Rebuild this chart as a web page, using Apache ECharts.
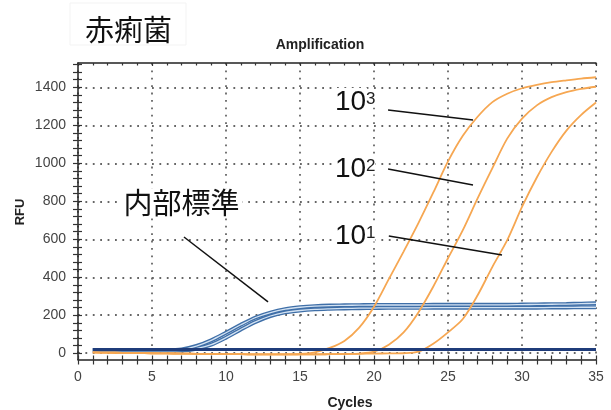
<!DOCTYPE html>
<html>
<head>
<meta charset="utf-8">
<script src="https://cdn.jsdelivr.net/npm/echarts@6/dist/echarts.min.js"></script>
<style>
html,body{margin:0;padding:0;background:#fff;}
#c{width:611px;height:410px;}
</style>
</head>
<body>
<div id="c"></div>
<script>
// ---- data ----
const cycles = [1,2,3,4,5,6,7,8,9,10,11,12,13,14,15,16,17,18,19,20,21,22,23,24,25,26,27,28,29,30,31,32,33,34,35];
const target1e3 = [4,3,2,1,0,-1,-2,-3,-4,-5,-5,-6,-6,-6,-4,5,28,65,135,245,390,535,685,845,1010,1145,1245,1322,1366,1395,1413,1427,1437,1446,1453];
const target1e2 = [4,3,2,1,0,-1,-2,-3,-4,-5,-5,-6,-6,-6,-6,-6,-5,-4,-2,8,45,110,215,350,500,648,815,975,1130,1235,1305,1348,1375,1392,1403];
const target1e1 = [4,3,2,1,0,-1,-2,-3,-4,-5,-5,-6,-6,-6,-6,-6,-5,-4,-3,-2,-1,0,8,50,110,180,305,455,595,770,925,1060,1172,1255,1320];
const internalUpper = [17,17,17,17,17,17,20,38,68,108,150,188,214,232,242,248,251,252,253,254,254,254,254,255,255,255,255,255,255,256,257,258,259,261,263];
const internalLower = [14,14,14,14,14,14,15,24,45,82,125,165,196,215,225,231,234,236,237,238,239,239,239,240,240,240,240,240,240,240,240,241,241,242,242];
const flatControl = [20,20,20,20,20,20,20,20,20,20,20,20,20,20,20,20,20,20,20,20,20,20,20,20,20,20,20,20,20,20,20,20,20,20,20];
const yLabelValues = [0,200,400,600,800,1000,1200,1400];
const yGridValues = [0,200,400,600,800,1000,1200,1400];
const yTickValues = [0,40,80,120,160,200,240,280,320,360,400,440,480,520,560,600,640,680,720,760,800,840,880,920,960,1000,1040,1080,1120,1160,1200,1240,1280,1320,1360,1400,1440,1480,1520];
const yMin = -33, yMax = 1528;
// annotation pointer lines in data coordinates [x1,y1,x2,y2]
const pointer1e3 = [20.95,1281,26.69,1228];
const pointer1e2 = [20.95,970,26.69,886];
const pointer1e1 = [21.0,617,28.65,517];
const pointerIS = [7.16,612,12.84,270];

const pair = ys => cycles.map((c,i)=>[c, ys[i]]);

const ORANGE = '#f6a752';
const BLUE_OUT = '#3f6fa8';
const BLUE_IN = '#d3e2f2';
const NAVY = '#1f3c7a';
const LF = '"Liberation Sans", Arial, sans-serif';
const CJK = '"Noto Sans CJK JP", sans-serif';

const chart = echarts.init(document.getElementById('c'), null, {renderer:'canvas'});

const tickStyle = {color:'#333', width:1.2};
const dotted = {color:'#666', width:1.8, type:[1.8,5.6]};

function lineSeries(name, ys, color, width, z){
  return {name, type:'line', data:pair(ys), xAxisIndex:0, yAxisIndex:0, showSymbol:false, symbol:'none',
    smooth:0.3, lineStyle:{color, width}, z, silent:true, animation:false};
}
function ptr(p){ return [{coord:[p[0],p[1]]},{coord:[p[2],p[3]]}]; }

const series = [
  lineSeries('IS-upper-out', internalUpper, BLUE_OUT, 4, 2),
  lineSeries('IS-upper-in', internalUpper, BLUE_IN, 1.3, 3),
  lineSeries('IS-lower-out', internalLower, BLUE_OUT, 4, 2),
  lineSeries('IS-lower-in', internalLower, BLUE_IN, 1.3, 3),
  lineSeries('1e1', target1e1, ORANGE, 1.8, 4),
  lineSeries('1e2', target1e2, ORANGE, 1.8, 4),
  lineSeries('1e3', target1e3, ORANGE, 1.8, 4),
  Object.assign(lineSeries('ctrl', flatControl, NAVY, 3, 5), {
    markLine:{silent:true, symbol:['none','none'], label:{show:false}, animation:false,
      lineStyle:{color:'#111', width:1.5, type:'solid'}, emphasis:{disabled:true},
      data:[ptr(pointer1e3), ptr(pointer1e2), ptr(pointer1e1), ptr(pointerIS)]}
  })
];

const grid = {left:78, right:15, top:63, bottom:50.5, outerBoundsMode:'none', containLabel:false};

const option = {
  animation:false,
  backgroundColor:'#fff',
  grid: grid,
  xAxis:[
    {type:'value', min:0, max:35, interval:5, position:'bottom',
      axisLine:{show:true, onZero:false, lineStyle:{color:'#222', width:1.5}},
      axisTick:{show:true, inside:false, length:5, lineStyle:tickStyle},
      minorTick:{show:true, splitNumber:5, length:5, lineStyle:tickStyle},
      axisLabel:{show:true, margin:11, color:'#444', fontSize:14, fontFamily:LF},
      splitLine:{show:true, lineStyle:dotted}},
    {type:'value', min:0, max:35, interval:5, position:'bottom',
      axisLine:{show:false, onZero:false},
      axisTick:{show:true, inside:true, length:4, lineStyle:tickStyle},
      minorTick:{show:true, splitNumber:5, length:4, lineStyle:tickStyle},
      axisLabel:{show:false}, splitLine:{show:false}},
    {type:'value', min:0, max:35, interval:5, position:'top',
      axisLine:{show:true, onZero:false, lineStyle:{color:'#222', width:1.5}},
      axisTick:{show:true, inside:true, length:3, lineStyle:tickStyle},
      minorTick:{show:true, splitNumber:5, length:2.5, lineStyle:tickStyle},
      axisLabel:{show:false}, splitLine:{show:false}}
  ],
  yAxis:[
    {type:'value', min:yMin, max:yMax, position:'left',
      axisLine:{show:true, onZero:false, lineStyle:{color:'#222', width:1.5}},
      axisTick:{show:true, inside:false, length:5, customValues:yTickValues, lineStyle:tickStyle},
      axisLabel:{show:true, margin:12, color:'#444', fontSize:14, fontFamily:LF, customValues:yLabelValues,
        formatter:v=>String(v)},
      splitLine:{show:false}},
    {type:'value', min:yMin, max:yMax, position:'left',
      axisLine:{show:false, onZero:false},
      axisTick:{show:true, inside:true, length:4, customValues:yTickValues, lineStyle:tickStyle},
      axisLabel:{show:false}, splitLine:{show:false}},
    {type:'value', min:yMin, max:yMax, position:'left',
      axisLine:{show:false, onZero:false},
      axisTick:{show:false, customValues:yGridValues},
      axisLabel:{show:false, customValues:yGridValues},
      splitLine:{show:true, lineStyle:dotted}}
  ],
  series: series,
  graphic:[
    {type:'rect', z:50, shape:{x:70, y:3, width:116, height:42}, style:{fill:'#fff', stroke:'#f3f3f3', lineWidth:1}},
    {type:'text', z:51, x:128.5, y:30, style:{text:'赤痢菌', font:'29px '+CJK, fill:'#111', align:'center', verticalAlign:'middle', textAlign:'center', textVerticalAlign:'middle'}},
    {type:'text', z:51, x:320, y:45, style:{text:'Amplification', font:'bold 14px '+LF, fill:'#222', align:'center', verticalAlign:'middle', textAlign:'center', textVerticalAlign:'middle'}},
    {type:'text', z:51, x:350, y:403, style:{text:'Cycles', font:'bold 14px '+LF, fill:'#222', align:'center', verticalAlign:'middle', textAlign:'center', textVerticalAlign:'middle'}},
    {type:'text', z:51, x:20, y:212, rotation:Math.PI/2, style:{text:'RFU', font:'bold 13px '+LF, fill:'#222', align:'center', verticalAlign:'middle', textAlign:'center', textVerticalAlign:'middle'}},
    {type:'text', z:51, x:181.5, y:203, style:{text:'内部標準', font:'29px '+CJK, fill:'#111', align:'center', verticalAlign:'middle', textAlign:'center', textVerticalAlign:'middle', backgroundColor:'#fff', padding:[0,3]}},
    {type:'text', z:51, x:334, y:102, style:{text:'10', font:'28px '+LF, fill:'#111', align:'left', verticalAlign:'middle', textAlign:'left', textVerticalAlign:'middle', backgroundColor:'#fff', padding:[0,1]}},
    {type:'text', z:51, x:366, y:99, style:{text:'3', font:'17px '+LF, fill:'#222', align:'left', verticalAlign:'middle', textAlign:'left', textVerticalAlign:'middle', backgroundColor:'#fff'}},
    {type:'text', z:51, x:334, y:169, style:{text:'10', font:'28px '+LF, fill:'#111', align:'left', verticalAlign:'middle', textAlign:'left', textVerticalAlign:'middle', backgroundColor:'#fff', padding:[0,1]}},
    {type:'text', z:51, x:366, y:166, style:{text:'2', font:'17px '+LF, fill:'#222', align:'left', verticalAlign:'middle', textAlign:'left', textVerticalAlign:'middle', backgroundColor:'#fff'}},
    {type:'text', z:51, x:334, y:236, style:{text:'10', font:'28px '+LF, fill:'#111', align:'left', verticalAlign:'middle', textAlign:'left', textVerticalAlign:'middle', backgroundColor:'#fff', padding:[0,1]}},
    {type:'text', z:51, x:366, y:233, style:{text:'1', font:'17px '+LF, fill:'#222', align:'left', verticalAlign:'middle', textAlign:'left', textVerticalAlign:'middle', backgroundColor:'#fff'}}
  ]
};
chart.setOption(option);
</script>
</body>
</html>
